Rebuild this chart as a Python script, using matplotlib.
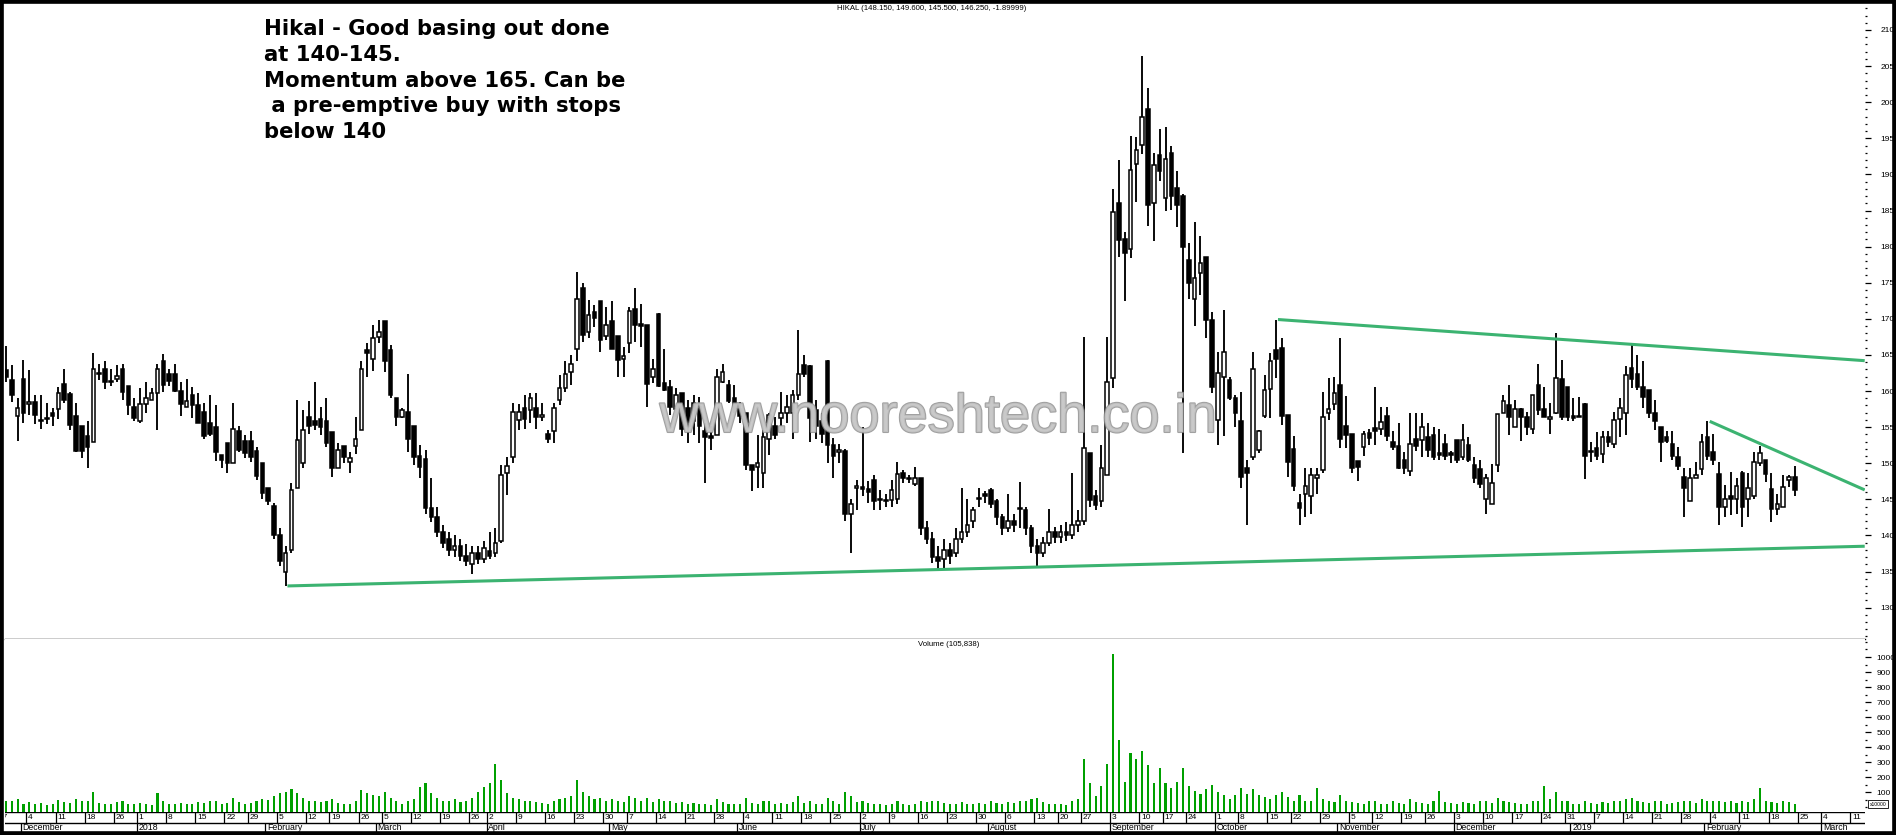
import numpy as np
import pandas as pd
import matplotlib
matplotlib.use("Agg")
import matplotlib.pyplot as plt
from matplotlib.patches import Rectangle
from matplotlib.ticker import MultipleLocator, FixedLocator
import matplotlib.patheffects as pe

# ---------------- data ----------------
holidays = ["2017-12-25", "2018-01-26", "2018-02-13", "2018-03-02", "2018-03-29",
            "2018-03-30", "2018-05-01", "2018-08-15", "2018-08-22", "2018-09-13",
            "2018-09-20", "2018-10-02", "2018-10-18", "2018-11-08", "2018-11-23",
            "2018-12-25"]
future_days = ["2019-02-25", "2019-02-26", "2019-02-27", "2019-02-28", "2019-03-04",
               "2019-03-05", "2019-03-06", "2019-03-07", "2019-03-08", "2019-03-11",
               "2019-03-12"]

opens = [161.0, 162.9, 161.5, 156.6, 161.7, 158.2, 158.5, 156.0, 156.1, 157.0,
         157.5, 161.0, 159.6, 156.5, 155.2, 153.7, 153.0, 162.5, 163.0, 161.4,
         161.6, 163.0, 160.7, 157.8, 155.9, 158.2, 158.8, 159.7, 164.2, 162.4,
         162.4, 160.0, 157.8, 159.4, 158.1, 157.1, 155.6, 155.0, 151.1, 152.8,
         150.0, 154.5, 153.1, 153.1, 151.7, 150.0, 146.6, 144.1, 140.0, 135.0,
         138.0, 146.5, 150.0, 156.4, 155.8, 156.1, 155.8, 154.3, 149.3, 152.4,
         150.1, 152.4, 154.6, 165.7, 164.4, 167.5, 169.7, 165.7, 159.0, 156.4,
         157.1, 155.2, 151.0, 150.6, 143.8, 142.5, 140.5, 139.5, 138.0, 138.6,
         137.2, 136.0, 137.5, 136.8, 137.8, 137.5, 139.2, 148.6, 150.9, 156.0,
         157.6, 157.4, 157.6, 156.4, 154.0, 154.4, 158.8, 160.4, 162.7, 165.8,
         174.2, 168.2, 171.0, 172.4, 167.6, 169.7, 167.6, 164.5, 166.6, 171.3,
         169.3, 169.1, 162.0, 170.7, 161.1, 160.6, 157.5, 159.7, 157.7, 155.8,
         157.8, 154.5, 153.7, 153.9, 161.3, 160.9, 159.0, 157.5, 156.9, 149.7,
         149.5, 148.7, 153.3, 155.1, 156.2, 157.0, 156.9, 159.4, 163.6, 163.4,
         157.4, 155.8, 164.1, 152.5, 151.6, 151.7, 143.0, 146.5, 146.7, 146.4,
         147.7, 145.0, 144.7, 144.9, 145.0, 148.7, 147.9, 147.1, 148.0, 141.0,
         139.5, 137.0, 136.8, 138.0, 137.5, 139.5, 140.5, 142.0, 145.0, 145.8,
         146.3, 144.7, 142.5, 141.0, 142.0, 143.8, 143.5, 141.0, 138.5, 137.5,
         139.0, 140.5, 139.8, 140.5, 140.0, 141.5, 142.0, 151.4, 145.4, 144.7,
         148.4, 161.8, 186.0, 181.0, 179.7, 191.4, 194.1, 199.1, 186.1, 192.7,
         186.7, 192.9, 188.1, 187.0, 178.2, 172.8, 176.4, 178.5, 169.8, 156.0,
         161.9, 161.5, 159.0, 155.8, 149.3, 150.9, 151.8, 156.6, 160.3, 165.7,
         166.0, 156.7, 151.9, 144.5, 145.8, 145.4, 148.0, 149.1, 157.0, 158.2,
         160.8, 155.2, 154.0, 150.3, 152.3, 154.2, 154.9, 154.8, 156.5, 152.9,
         152.4, 150.4, 148.9, 153.4, 153.2, 153.6, 153.9, 151.4, 152.6, 151.4,
         153.2, 150.8, 152.5, 149.8, 149.2, 145.0, 144.4, 149.8, 156.9, 158.1,
         155.0, 157.5, 156.4, 154.8, 160.9, 157.5, 156.1, 157.0, 161.7, 160.5,
         156.5, 156.6, 158.2, 151.5, 152.1, 151.3, 153.6, 152.7, 156.1, 156.9,
         163.2, 162.4, 160.5, 160.1, 157.0, 155.0, 153.6, 152.6, 150.9, 148.1,
         144.7, 147.9, 149.2, 153.6, 151.5, 148.5, 143.9, 145.5, 145.1, 148.7,
         145.0, 145.5, 150.0, 150.5, 146.4, 143.7, 143.9, 147.7, 148.15]

highs = [163.5, 166.2, 163.6, 159.0, 164.3, 162.9, 159.4, 159.4, 158.4, 157.6,
         160.6, 163.0, 159.8, 158.4, 155.2, 155.8, 165.2, 163.8, 164.1, 163.0,
         163.6, 163.8, 160.7, 159.0, 160.4, 161.2, 160.4, 163.8, 165.1, 163.1,
         163.8, 161.2, 161.6, 160.5, 159.7, 158.3, 159.4, 158.0, 151.1, 152.8,
         158.3, 155.2, 153.9, 154.5, 152.3, 150.0, 146.6, 144.5, 141.0, 138.5,
         147.2, 158.8, 157.4, 158.6, 161.3, 157.8, 159.0, 154.3, 152.8, 152.4,
         151.6, 156.4, 164.1, 166.6, 169.1, 169.8, 169.7, 166.4, 159.0, 157.6,
         162.4, 155.2, 152.5, 151.8, 147.9, 144.0, 141.5, 140.5, 140.0, 139.5,
         138.8, 138.6, 138.5, 139.2, 140.5, 141.0, 149.7, 150.9, 158.3, 158.2,
         159.4, 159.7, 159.7, 158.3, 154.6, 158.3, 162.2, 164.1, 165.0, 176.5,
         174.9, 172.6, 171.9, 172.5, 171.7, 172.4, 167.6, 166.1, 171.6, 174.2,
         172.0, 169.1, 164.5, 170.8, 165.8, 161.5, 160.4, 159.7, 158.8, 159.4,
         159.2, 155.5, 155.1, 163.1, 163.8, 161.5, 160.8, 158.5, 156.9, 149.7,
         153.9, 154.6, 156.9, 156.4, 159.9, 159.4, 160.1, 168.5, 165.0, 163.6,
         158.8, 156.9, 164.3, 153.5, 152.7, 152.0, 145.0, 147.7, 155.0, 147.5,
         148.3, 146.3, 145.8, 147.7, 150.2, 149.1, 148.4, 149.5, 148.0, 142.0,
         140.5, 138.5, 139.5, 139.0, 141.0, 146.5, 145.1, 144.0, 146.5, 146.2,
         146.5, 145.0, 143.0, 145.8, 143.0, 147.4, 144.0, 141.5, 139.5, 139.8,
         143.7, 141.2, 141.5, 141.8, 148.7, 143.5, 167.5, 151.4, 146.3, 152.5,
         167.5, 188.0, 192.0, 182.0, 195.3, 195.2, 206.4, 201.9, 192.9, 196.3,
         196.5, 193.9, 190.5, 187.3, 180.5, 183.4, 181.4, 178.5, 171.0, 165.4,
         171.2, 162.0, 159.5, 159.8, 150.4, 165.4, 154.6, 162.2, 165.2, 169.9,
         167.3, 156.7, 153.8, 145.8, 149.3, 149.3, 149.3, 159.8, 161.8, 162.0,
         167.3, 159.3, 154.0, 150.3, 154.4, 154.8, 160.6, 157.8, 157.8, 154.4,
         155.5, 151.6, 157.0, 156.9, 157.0, 155.6, 155.0, 154.8, 154.1, 151.7,
         153.2, 155.4, 153.6, 150.9, 150.4, 148.5, 149.9, 156.8, 159.4, 160.8,
         158.8, 157.7, 157.1, 159.5, 163.8, 160.6, 158.3, 168.1, 164.3, 160.5,
         159.0, 159.2, 158.4, 152.9, 154.3, 154.4, 154.5, 157.1, 159.0, 163.5,
         166.4, 165.0, 164.2, 160.1, 158.7, 155.0, 154.4, 154.4, 152.3, 149.4,
         149.4, 150.1, 154.1, 155.8, 154.1, 150.1, 147.0, 148.8, 147.9, 148.9,
         148.6, 151.5, 152.4, 150.5, 148.6, 145.8, 148.4, 148.4, 149.6]

lows = [159.5, 161.3, 158.5, 153.1, 155.5, 156.7, 155.4, 154.7, 155.4, 155.2,
        156.1, 158.3, 154.6, 151.5, 150.7, 149.4, 153.0, 161.5, 160.3, 160.7,
        161.2, 158.7, 156.7, 155.8, 155.5, 156.9, 158.7, 154.6, 159.8, 160.7,
        159.9, 156.5, 157.8, 156.2, 155.6, 153.3, 153.7, 150.3, 149.4, 148.7,
        150.0, 151.5, 150.7, 150.2, 147.7, 145.1, 144.2, 139.5, 135.8, 133.0,
        137.5, 146.5, 149.4, 154.0, 154.6, 153.9, 152.3, 148.1, 149.3, 150.0,
        148.6, 151.3, 154.6, 162.0, 162.8, 166.6, 162.7, 159.0, 155.1, 156.2,
        151.6, 149.8, 148.0, 143.0, 141.8, 139.8, 138.2, 137.2, 137.0, 136.5,
        135.8, 134.6, 136.0, 136.2, 136.8, 137.0, 139.0, 145.6, 150.0, 154.6,
        154.8, 155.5, 154.8, 155.8, 152.8, 152.8, 158.1, 159.9, 160.8, 164.1,
        166.8, 167.3, 168.9, 165.4, 167.1, 165.8, 162.0, 162.0, 165.2, 166.8,
        166.1, 157.8, 161.1, 160.6, 160.0, 156.7, 156.4, 153.8, 152.8, 153.9,
        152.8, 147.2, 151.8, 153.9, 161.1, 158.3, 156.9, 155.5, 149.1, 146.1,
        146.5, 146.5, 151.1, 153.4, 155.1, 155.5, 153.4, 158.8, 162.0, 153.0,
        153.4, 152.8, 150.0, 148.0, 150.0, 142.0, 137.5, 143.5, 145.5, 144.5,
        143.5, 143.5, 144.0, 144.0, 144.4, 147.2, 147.2, 146.8, 140.0, 138.8,
        136.2, 135.2, 135.5, 136.0, 137.0, 139.0, 139.8, 141.0, 144.0, 144.5,
        143.8, 141.5, 140.0, 140.5, 140.5, 141.0, 140.0, 137.5, 135.6, 137.0,
        138.5, 139.0, 139.0, 139.2, 139.5, 140.5, 141.5, 144.0, 143.5, 144.0,
        148.4, 160.4, 178.5, 172.5, 178.4, 186.2, 192.8, 182.9, 180.8, 189.1,
        185.0, 185.1, 182.7, 151.4, 172.8, 169.0, 173.3, 167.3, 159.7, 152.5,
        153.7, 158.7, 155.0, 146.5, 141.5, 150.4, 151.4, 156.2, 156.2, 161.8,
        155.3, 148.1, 146.1, 141.5, 142.5, 143.0, 145.8, 148.6, 156.0, 157.4,
        152.1, 152.1, 148.6, 147.6, 151.0, 152.5, 152.5, 153.9, 153.1, 151.8,
        149.2, 148.5, 148.2, 151.7, 150.9, 150.9, 150.4, 150.4, 150.4, 150.0,
        150.0, 150.5, 150.1, 147.3, 146.5, 143.0, 144.4, 148.8, 156.9, 153.9,
        155.0, 153.1, 153.9, 154.0, 156.7, 156.4, 154.1, 156.8, 156.0, 155.9,
        155.9, 156.4, 147.8, 150.1, 150.5, 150.0, 152.2, 152.1, 153.6, 153.9,
        160.4, 160.2, 157.6, 156.2, 154.6, 150.1, 152.8, 150.4, 149.1, 142.5,
        144.7, 147.9, 148.4, 150.4, 149.8, 141.5, 142.5, 142.8, 143.0, 141.2,
        142.5, 145.0, 149.6, 147.4, 141.8, 142.8, 143.9, 146.7, 145.5]

closes = [162.5, 161.9, 159.5, 157.6, 156.9, 158.5, 156.7, 155.9, 156.3, 156.6,
          159.7, 158.8, 155.3, 151.7, 151.7, 152.3, 163.1, 162.4, 161.3, 161.2,
          162.1, 159.9, 158.0, 156.3, 158.2, 159.0, 159.7, 163.0, 160.9, 161.4,
          160.0, 158.2, 158.6, 158.1, 155.6, 153.8, 154.0, 151.6, 150.4, 150.0,
          154.8, 151.8, 151.4, 150.8, 148.2, 145.9, 144.8, 140.0, 136.5, 137.5,
          146.3, 153.2, 154.6, 155.1, 155.3, 155.0, 152.8, 149.4, 151.8, 150.8,
          150.7, 153.4, 163.1, 165.3, 167.3, 168.2, 164.1, 159.4, 156.4, 157.4,
          153.4, 150.9, 149.5, 143.8, 142.5, 140.5, 139.0, 138.0, 138.6, 137.2,
          136.5, 137.5, 136.8, 138.2, 137.2, 139.0, 148.4, 149.6, 157.1, 157.1,
          156.1, 159.0, 156.4, 156.7, 153.4, 157.6, 160.4, 162.4, 163.8, 172.7,
          167.8, 170.5, 170.1, 167.0, 169.2, 165.8, 164.3, 164.8, 171.1, 169.1,
          169.0, 161.0, 163.1, 160.7, 160.1, 157.8, 159.5, 154.8, 155.1, 158.4,
          155.1, 153.6, 153.5, 161.9, 162.7, 158.6, 157.6, 156.5, 149.7, 149.1,
          150.0, 153.6, 156.7, 153.9, 156.9, 157.8, 159.4, 162.4, 162.4, 156.2,
          155.1, 154.1, 152.5, 151.0, 151.8, 143.0, 144.4, 146.8, 146.4, 146.0,
          144.7, 144.9, 144.9, 146.3, 148.5, 147.9, 147.8, 147.9, 141.0, 139.5,
          137.0, 136.5, 138.0, 137.2, 139.5, 140.5, 141.5, 143.5, 145.2, 145.4,
          144.4, 142.5, 141.0, 142.0, 141.5, 143.7, 141.0, 138.5, 137.5, 139.0,
          140.5, 139.8, 140.5, 140.0, 141.5, 142.0, 152.1, 144.9, 144.2, 149.4,
          161.2, 184.8, 180.9, 179.1, 190.6, 193.4, 197.9, 185.7, 191.3, 190.5,
          192.2, 187.0, 185.7, 179.9, 174.9, 175.6, 177.7, 169.9, 160.6, 162.5,
          165.4, 159.0, 157.0, 148.1, 148.6, 163.0, 154.4, 160.2, 164.2, 164.5,
          156.6, 150.2, 146.8, 143.8, 146.9, 148.4, 148.4, 156.4, 157.5, 159.7,
          153.4, 153.9, 149.4, 149.5, 154.0, 153.5, 154.4, 155.7, 153.7, 152.3,
          149.3, 149.4, 152.6, 152.4, 155.0, 151.8, 150.8, 151.1, 151.0, 151.1,
          150.5, 153.2, 150.5, 148.0, 147.1, 148.0, 147.2, 156.8, 158.6, 156.4,
          157.5, 156.4, 155.0, 159.5, 157.3, 156.4, 156.4, 161.8, 156.4, 156.4,
          156.3, 156.4, 151.0, 151.5, 151.0, 153.6, 153.0, 156.0, 157.6, 162.2,
          161.6, 160.5, 159.1, 157.0, 155.9, 152.9, 153.1, 151.0, 149.6, 146.5,
          147.9, 148.4, 153.0, 151.0, 150.4, 143.9, 145.0, 145.0, 146.8, 143.9,
          146.5, 150.1, 151.4, 148.5, 143.7, 144.4, 146.7, 148.15, 146.25]

volumes = [30, 45, 40, 55, 25, 35, 20, 30, 15, 25,
           50, 35, 30, 55, 45, 40, 100, 30, 25, 20,
           35, 45, 25, 20, 30, 25, 15, 95, 40, 25,
           20, 30, 20, 25, 35, 30, 40, 45, 25, 30,
           65, 35, 25, 30, 45, 55, 50, 75, 95, 105,
           125, 95, 65, 45, 40, 35, 45, 55, 30, 25,
           20, 45, 115, 95, 85, 75, 105, 65, 45, 25,
           40, 55, 135, 165, 95, 65, 45, 40, 55, 35,
           45, 65, 105, 135, 165, 290, 185, 95, 65, 55,
           45, 40, 35, 30, 25, 45, 55, 65, 75, 180,
           105, 75, 55, 65, 45, 55, 40, 35, 75, 65,
           45, 65, 35, 55, 40, 45, 30, 35, 25, 30,
           25, 20, 15, 55, 35, 25, 20, 25, 65, 30,
           25, 40, 45, 25, 30, 25, 35, 75, 30, 45,
           25, 20, 65, 40, 25, 105, 75, 35, 45, 30,
           25, 20, 15, 25, 40, 25, 15, 20, 45, 35,
           40, 45, 30, 25, 20, 35, 25, 20, 30, 25,
           45, 30, 25, 35, 30, 45, 40, 55, 65, 35,
           25, 20, 25, 15, 45, 55, 320, 165, 75, 145,
           290, 1017, 450, 170, 365, 325, 375, 285, 160, 265,
           160, 130, 170, 265, 140, 110, 90, 120, 150, 100,
           80, 55, 80, 130, 90, 120, 80, 70, 55, 80,
           100, 70, 45, 80, 45, 40, 130, 55, 45, 35,
           80, 45, 35, 30, 25, 40, 45, 20, 25, 45,
           30, 25, 55, 35, 30, 25, 40, 110, 35, 30,
           25, 35, 30, 25, 40, 45, 30, 65, 45, 35,
           30, 25, 20, 45, 40, 140, 55, 100, 45, 40,
           25, 20, 45, 30, 25, 35, 30, 45, 40, 55,
           65, 45, 35, 30, 40, 45, 25, 30, 35, 45,
           40, 30, 55, 45, 40, 45, 35, 40, 30, 45,
           35, 55, 130, 45, 35, 30, 40, 35, 25]

price_ticks = list(range(130, 211, 5))
volume_ticks = list(range(100, 1001, 100))
title_text = "HIKAL (148.150, 149.600, 145.500, 146.250, -1.89999)"
volume_title = "Volume (105,838)"
note_text = ("Hikal - Good basing out done\nat 140-145.\nMomentum above 165. Can be\n"
             " a pre-emptive buy with stops\nbelow 140")
watermark = "www.nooreshtech.co.in"
# annotation trendlines (slot index, price)
upper_line = ([219.3, 320.0], [169.9, 164.2])
lower_line = ([49.3, 320.0], [133.0, 138.5])
short_line = ([293.4, 320.0], [155.8, 146.3])

# ---------------- layout ----------------
W, H, DPI = 1896, 835, 100
fig = plt.figure(figsize=(W / DPI, H / DPI), dpi=DPI, facecolor="white")

def fx(px):
    return px / W

def fy(py):
    return 1 - py / H

LEFT, RIGHT = 5, 1865
P_TOP, P_BOT = 4, 639
V_BOT = 812
D_BOT = 832
XMIN, XMAX = 0.83, 320.05

ax = fig.add_axes([fx(LEFT), fy(P_BOT), fx(RIGHT - LEFT), (P_BOT - P_TOP) / H])
axv = fig.add_axes([fx(LEFT), fy(V_BOT), fx(RIGHT - LEFT), (V_BOT - P_BOT) / H])
axd = fig.add_axes([fx(LEFT), fy(D_BOT), fx(RIGHT - LEFT), (D_BOT - V_BOT) / H])

trade_dates = [d for d in pd.bdate_range("2017-11-27", "2019-02-22")
               if d.strftime("%Y-%m-%d") not in holidays]
n = min(len(trade_dates), len(closes))
all_dates = list(trade_dates[:n]) + [pd.Timestamp(d) for d in future_days]

x = np.arange(n)
o = np.array(opens[:n]); h = np.array(highs[:n]); l = np.array(lows[:n]); c = np.array(closes[:n])
up = c >= o
bb = np.minimum(o, c)
bh = np.maximum(np.abs(c - o), 0.14)

ax.vlines(x, l, h, color="black", lw=1.35, zorder=2)
ax.bar(x[up], bh[up], bottom=bb[up], width=0.62, facecolor="white",
       edgecolor="black", linewidth=1.1, zorder=3)
ax.bar(x[~up], bh[~up], bottom=bb[~up], width=0.62, facecolor="black",
       edgecolor="black", linewidth=1.1, zorder=3)

green = "#3cb371"
for xs, ys in (upper_line, lower_line, short_line):
    ax.plot(xs, ys, color=green, lw=2.2, zorder=4, solid_capstyle="butt")

ax.set_xlim(XMIN, XMAX)
ax.set_ylim(210 - 609 / 7.22, 210 + 26 / 7.22)
ax.yaxis.tick_right()
ax.yaxis.set_major_locator(FixedLocator(price_ticks))
ax.yaxis.set_minor_locator(MultipleLocator(1))
ax.tick_params(axis="y", which="major", direction="out", length=4.2, width=0.9,
               pad=7, labelsize=6)
ax.tick_params(axis="y", which="minor", direction="out", length=1.4, width=0.9)
ax.set_xticks([])
for lab in ax.get_yticklabels():
    lab.set_family("Liberation Sans")
for s in ("top", "left", "right"):
    ax.spines[s].set_visible(False)
ax.spines["bottom"].set_linewidth(1.0)

ax.text(0.5016, (P_BOT - 432) / (P_BOT - P_TOP), watermark, transform=ax.transAxes,
        ha="center", va="baseline", fontsize=39, family="Liberation Sans",
        color="#c8c8c8", alpha=0.82, zorder=6,
        path_effects=[pe.withStroke(linewidth=1.5, foreground="#8c8c8c")])

# volume panel
vol = np.array(volumes[:n], dtype=float)
vbase = -30.0
vscale = (V_BOT - 657) / (1000 - vbase)
vtop = 1000 + (657 - P_BOT) / vscale
axv.bar(x, vol - vbase, bottom=vbase, width=0.36, color="#00a000", zorder=2)
axv.set_xlim(XMIN, XMAX)
axv.set_ylim(vbase, vtop)
axv.yaxis.tick_right()
axv.yaxis.set_major_locator(FixedLocator(volume_ticks))
axv.yaxis.set_minor_locator(MultipleLocator(50))
axv.tick_params(axis="y", which="major", direction="out", length=4.2, width=0.9,
                pad=4, labelsize=6)
axv.tick_params(axis="y", which="minor", direction="out", length=1.4, width=0.9)
axv.set_xticks([])
for lab in axv.get_yticklabels():
    lab.set_family("Liberation Sans")
for s in axv.spines.values():
    s.set_visible(False)
axv.text(0.5073, 1 - 6 / (V_BOT - P_BOT), volume_title, transform=axv.transAxes,
         ha="center", va="center", fontsize=5.6, family="Liberation Sans")

# date axis
axd.set_xlim(XMIN, XMAX)
axd.set_ylim(0, 20)
axd.axis("off")
axd.axhline(20, color="black", lw=1.0)
axd.axhline(9, color="black", lw=1.0)
for k, d in enumerate(all_dates):
    prev = all_dates[k - 1] if k > 0 else None
    if prev is None or d.isocalendar()[1] != prev.isocalendar()[1]:
        axd.vlines(k - 0.5, 9, 20, color="black", lw=0.9)
        axd.text(k - 0.2, 14.3, str(d.day), ha="left", va="center", fontsize=6,
                 family="Liberation Sans", clip_on=True)
    if prev is not None and d.month != prev.month:
        axd.vlines(k - 0.5, 0, 9, color="black", lw=0.9)
        lab = str(d.year) if d.month == 1 else d.strftime("%B")
        axd.text(k - 0.2, 4.3, lab, ha="left", va="center", fontsize=6.3,
                 family="Liberation Sans", clip_on=True)

# volume multiplier box
fig.text(fx(1878), fy(804), "x10000", ha="center", va="center", fontsize=3.6,
         family="Liberation Sans",
         bbox=dict(boxstyle="square,pad=0.25", fc="white", ec="black", lw=0.6))

# title and note
fig.text(fx(932), fy(8), title_text, ha="center", va="center", fontsize=5.6,
         family="Liberation Sans")
fig.text(fx(264), fy(19), note_text, ha="left", va="top", fontsize=15.2,
         fontweight="bold", family="DejaVu Sans", linespacing=1.36)

# outer frame
fig.patches.append(Rectangle((0, 0), 1, 1, transform=fig.transFigure, fill=False,
                             edgecolor="black", lw=5.5, zorder=10))

fig.savefig("out.png", dpi=DPI, facecolor="white")
